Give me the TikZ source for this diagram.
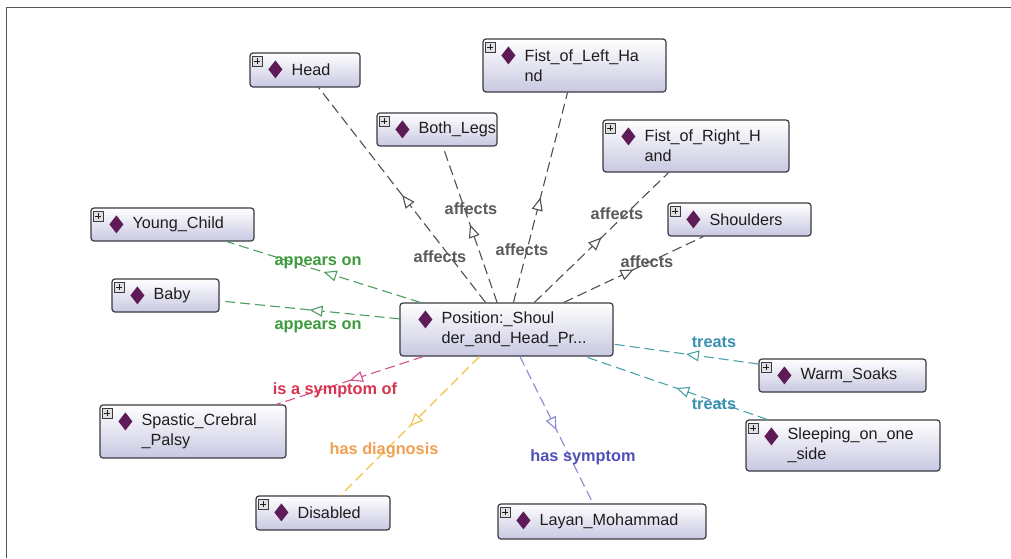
\documentclass[tikz,border=0pt]{standalone}
\usepackage{fontspec}
\setmainfont{Liberation Sans}
\usetikzlibrary{arrows.meta,decorations.markings}

\definecolor{boxedge}{HTML}{3A3A42}
\definecolor{boxbot}{HTML}{C8C8E2}
\definecolor{gem}{HTML}{5E1B57}
\definecolor{inktext}{HTML}{1E1E1E}
\definecolor{framecol}{HTML}{555555}
% relation colours: line / label
\definecolor{affline}{HTML}{505050}
\definecolor{afftext}{HTML}{5A5A5A}
\definecolor{appline}{HTML}{4E9E63}
\definecolor{apptext}{HTML}{3C9A3C}
\definecolor{symline}{HTML}{D4508E}
\definecolor{symtext}{HTML}{D8344F}
\definecolor{diagline}{HTML}{F2C244}
\definecolor{diagtext}{HTML}{F0A050}
\definecolor{hsline}{HTML}{8A8AD2}
\definecolor{hstext}{HTML}{5050B8}
\definecolor{trline}{HTML}{4AA2AA}
\definecolor{trtext}{HTML}{3A90B0}

\tikzset{
  obox/.style={rectangle, rounded corners=3pt, draw=boxedge, line width=1.2pt,
    top color=white, bottom color=boxbot, inner sep=0pt},
  otext/.style={inner sep=0pt, align=left, text=inktext,
    font=\fontsize{16.2}{20}\selectfont},
  plusicon/.style={draw=boxedge, fill=black!12, line width=0.6pt},
  rel/.style={draw=#1, dash pattern=on 10pt off 5pt, line width=1.1pt,
    postaction={decorate, decoration={markings,
      mark=at position 0.5 with {\arrow{Triangle[open, fill=white, color=#1, length=13pt, width=11pt, line width=1.1pt]}}}}},
  rlabel/.style={font=\bfseries\fontsize{16.3}{18}\selectfont, inner sep=1pt, text=#1},
  frame/.style={draw=framecol, line width=1.5pt},
}

% box with diamond and text; args: name, cx, cy, width, height, text
\newcommand\objbox[6]{%
  \node[obox, minimum width=#4pt, minimum height=#5pt] (#1) at (#2,#3) {};
  \node[otext, anchor=west] (#1-text) at ([xshift=42pt]#1.west) {#6};
  \fill[gem] ([xshift=26pt,yshift=-8pt]#1.north west) -- ++(7pt,-9pt)
    -- ++(-7pt,-9pt) -- ++(-7pt,9pt) -- cycle;
}
% small expand icon in the top left corner of a box
\newcommand\plusmark[1]{%
  \filldraw[plusicon] ([xshift=3pt,yshift=-4pt]#1.north west) rectangle ++(10pt,-10pt);
  \draw[inktext, line width=0.9pt] ([xshift=5pt,yshift=-9pt]#1.north west) -- ++(6pt,0pt);
  \draw[inktext, line width=0.9pt] ([xshift=8pt,yshift=-6pt]#1.north west) -- ++(0pt,-6pt);
}

\begin{document}
\begin{tikzpicture}[x=1pt, y=-1pt]
\useasboundingbox (0,0) rectangle (1011,558);
\fill[white] (0,0) rectangle (1011,558);

% frame
\draw[frame] (6.5,558) -- (6.5,7.5) -- (1011,7.5);

% individuals
\objbox{head}{305}{70}{110}{34}{Head}
\objbox{legs}{437}{129.5}{120}{33}{Both\_Legs}
\objbox{fistl}{574.5}{65.5}{183}{53}{Fist\_of\_Left\_Ha\\nd}
\objbox{fistr}{696}{146}{186}{52}{Fist\_of\_Right\_H\\and}
\objbox{shoulders}{739.5}{219.5}{143}{33}{Shoulders}
\objbox{child}{172.5}{224.5}{163}{33}{Young\_Child}
\objbox{baby}{165.5}{295.5}{107}{33}{Baby}
\objbox{pos}{506.5}{329.5}{213}{53}{Position:\_Shoul\\der\_and\_Head\_Pr...}
\objbox{soaks}{842.5}{375.5}{167}{33}{Warm\_Soaks}
\objbox{sleep}{843}{445.5}{194}{51}{Sleeping\_on\_one\\\_side}
\objbox{palsy}{193}{431.5}{186}{53}{Spastic\_Crebral\\\_Palsy}
\objbox{disabled}{323}{513}{134}{34}{Disabled}
\objbox{layan}{602}{521.5}{208}{35}{Layan\_Mohammad}

\foreach \n in {head,legs,fistl,fistr,shoulders,child,baby,soaks,sleep,palsy,disabled,layan}
  {\plusmark{\n}}

% relations
\draw[rel=affline] (pos) -- (head);
\draw[rel=affline] (pos) -- (legs);
\draw[rel=affline] (pos) -- (fistl);
\draw[rel=affline] (pos) -- (fistr);
\draw[rel=affline] (pos) -- (shoulders);
\draw[rel=appline] (pos) -- (child);
\draw[rel=appline] (pos) -- (baby);
\draw[rel=symline] (pos) -- (palsy);
\draw[rel=diagline] (pos) -- (disabled);
\draw[rel=hsline] (pos) -- (layan);
\draw[rel=trline] (soaks) -- (pos);
\draw[rel=trline] (sleep) -- (pos);

% relation labels
\node[rlabel=afftext] (aff1) at (471,209) {affects};
\node[rlabel=afftext] (aff2) at (440,257) {affects};
\node[rlabel=afftext] (aff3) at (522,250) {affects};
\node[rlabel=afftext] (aff4) at (617,214) {affects};
\node[rlabel=afftext] (aff5) at (647,262) {affects};
\node[rlabel=apptext] (app1) at (318,263) {appears on};
\node[rlabel=apptext] (app2) at (318,327) {appears on};
\node[rlabel=symtext] (sym) at (335,390) {is a symptom of};
\node[rlabel=diagtext] (diag) at (384,450) {has diagnosis};
\node[rlabel=hstext] (hs) at (583,457) {has symptom};
\node[rlabel=trtext] (tr1) at (714,342) {treats};
\node[rlabel=trtext] (tr2) at (714,404) {treats};
\end{tikzpicture}
\end{document}
